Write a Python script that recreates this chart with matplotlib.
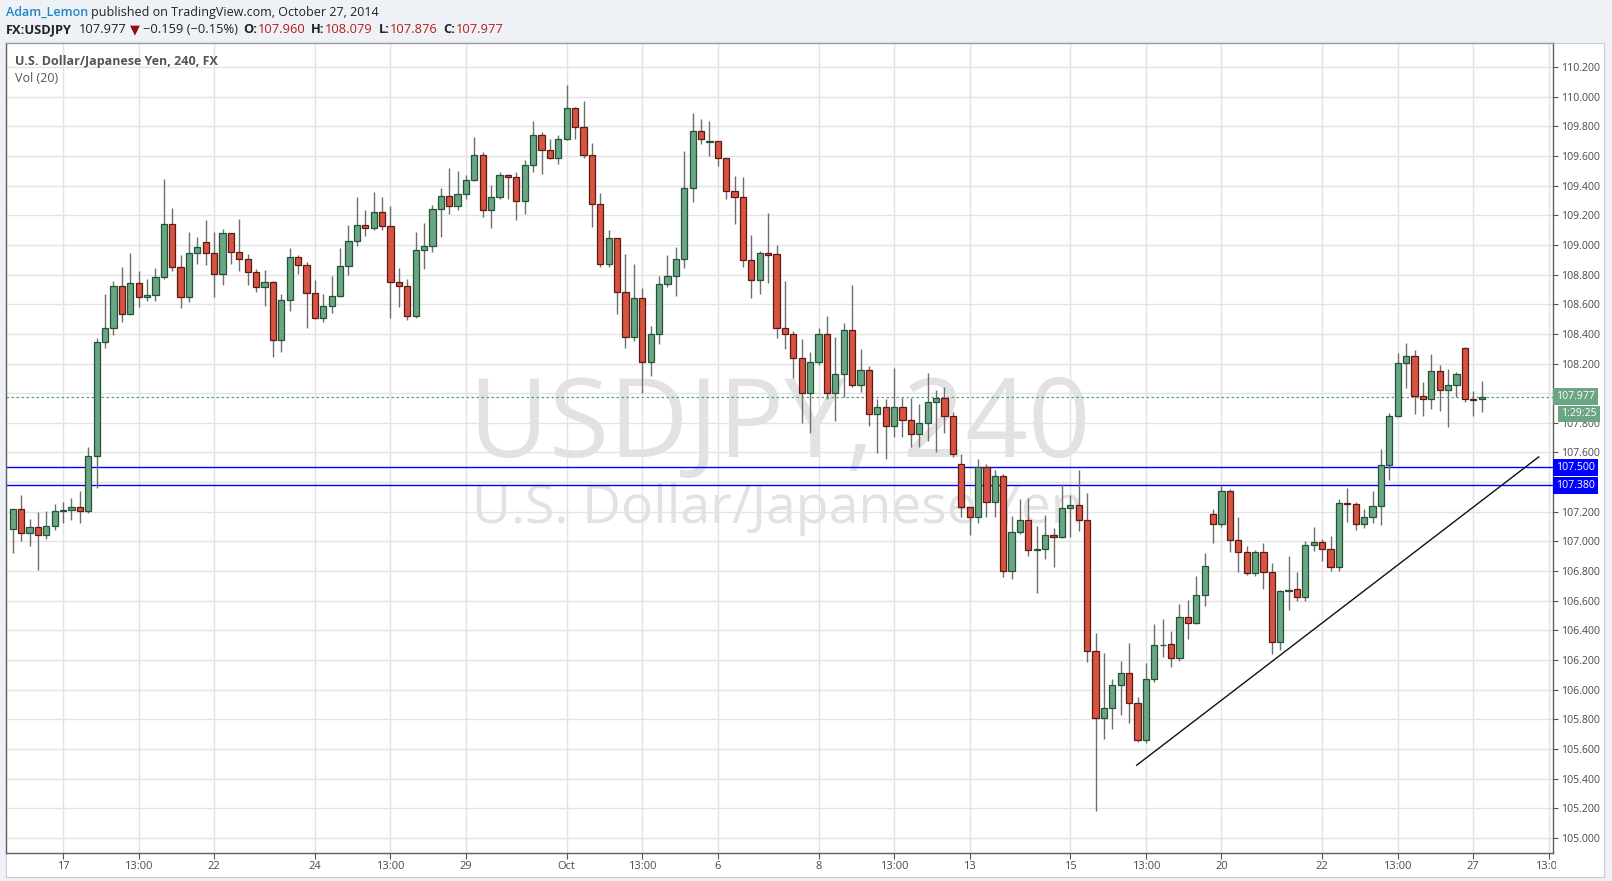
import matplotlib
matplotlib.use('Agg')
import matplotlib.pyplot as plt
from matplotlib.patches import Rectangle
from matplotlib.transforms import blended_transform_factory
import numpy as np

# ---------------- data (USDJPY, 240 min candles) ----------------
opens = [107.081, 107.216, 107.054, 107.095, 107.041, 107.102, 107.203, 107.212, 107.230, 107.203,
         107.574, 108.343, 108.437, 108.721, 108.532, 108.741, 108.646, 108.660, 108.781, 109.139,
         108.849, 108.649, 108.943, 109.017, 108.943, 108.801, 109.078, 108.950, 108.903, 108.815,
         108.714, 108.748, 108.356, 108.626, 108.916, 108.862, 108.673, 108.505, 108.586, 108.653,
         108.855, 109.024, 109.132, 109.112, 109.220, 109.125, 108.748, 108.720, 108.518, 108.963,
         108.990, 109.240, 109.328, 109.260, 109.341, 109.436, 109.604, 109.233, 109.321, 109.469,
         109.456, 109.294, 109.537, 109.739, 109.638, 109.584, 109.712, 109.921, 109.793, 109.604,
         109.274, 108.869, 109.044, 108.680, 108.376, 108.640, 108.212, 108.397, 108.734, 108.788,
         108.903, 109.382, 109.766, 109.694, 109.698, 109.584, 109.361, 109.321, 108.896, 108.761,
         108.943, 108.940, 108.437, 108.397, 108.235, 107.999, 108.208, 108.397, 107.999, 108.127,
         108.424, 108.053, 108.154, 107.857, 107.904, 107.776, 107.904, 107.817, 107.722, 107.796,
         107.938, 107.970, 107.844, 107.520, 107.230, 107.162, 107.500, 107.264, 107.439, 106.798,
         107.061, 107.142, 106.944, 106.947, 107.041, 107.028, 107.223, 107.243, 107.142, 106.263,
         105.807, 105.874, 106.029, 106.110, 105.912, 105.660, 106.075, 106.299, 106.306, 106.213,
         106.488, 106.447, 106.636, 107.183, 107.115, 107.340, 107.007, 106.926, 106.785, 106.926,
         106.791, 106.324, 106.668, 106.677, 106.623, 106.973, 106.994, 106.947, 106.830, 107.257,
         107.254, 107.115, 107.162, 107.237, 107.513, 107.844, 108.201, 108.248, 107.983, 107.958,
         108.147, 108.019, 108.053, 108.302, 107.960, 107.960]
highs = [107.220, 107.313, 107.151, 107.201, 107.205, 107.252, 107.268, 107.293, 107.340, 107.637,
         108.370, 108.669, 108.757, 108.851, 108.943, 108.824, 108.770, 108.844, 109.445, 109.247,
         108.930, 109.087, 109.053, 109.168, 109.087, 109.107, 109.080, 109.175, 108.939, 108.837,
         108.831, 108.756, 108.669, 108.979, 108.932, 108.882, 108.763, 108.669, 108.790, 108.979,
         109.134, 109.323, 109.235, 109.357, 109.323, 109.262, 108.844, 108.770, 109.087, 109.148,
         109.269, 109.384, 109.519, 109.498, 109.472, 109.728, 109.626, 109.404, 109.492, 109.478,
         109.492, 109.573, 109.836, 109.759, 109.714, 109.741, 110.079, 109.930, 109.971, 109.685,
         109.348, 109.100, 109.044, 108.939, 108.871, 108.707, 108.455, 108.790, 108.932, 108.986,
         109.633, 109.890, 109.849, 109.836, 109.700, 109.584, 109.465, 109.458, 109.067, 108.959,
         109.215, 109.000, 108.757, 108.420, 108.365, 108.280, 108.437, 108.520, 108.379, 108.473,
         108.730, 108.298, 108.181, 107.963, 107.960, 108.167, 107.970, 107.970, 107.927, 108.134,
         108.021, 108.039, 107.870, 107.590, 107.235, 107.556, 107.522, 107.482, 107.452, 107.171,
         107.286, 107.291, 107.104, 107.178, 107.090, 107.390, 107.313, 107.482, 107.327, 106.382,
         106.245, 106.072, 106.193, 106.312, 105.950, 106.180, 106.443, 106.477, 106.396, 106.578,
         106.605, 106.767, 106.922, 107.218, 107.380, 107.351, 107.164, 106.969, 106.940, 106.989,
         106.854, 106.670, 106.901, 106.794, 107.005, 107.095, 107.016, 107.036, 107.286, 107.360,
         107.266, 107.216, 107.338, 107.623, 107.866, 108.271, 108.338, 108.291, 108.075, 108.264,
         108.190, 108.163, 108.140, 108.311, 108.015, 108.079]
lows = [106.920, 107.005, 106.971, 106.804, 107.018, 107.079, 107.122, 107.147, 107.126, 107.190,
        107.358, 108.307, 108.395, 108.482, 108.530, 108.583, 108.624, 108.624, 108.770, 108.822,
        108.577, 108.617, 108.869, 108.864, 108.651, 108.732, 108.873, 108.826, 108.732, 108.685,
        108.590, 108.242, 108.275, 108.556, 108.806, 108.442, 108.498, 108.482, 108.543, 108.650,
        108.797, 108.995, 109.060, 109.100, 109.100, 108.509, 108.583, 108.493, 108.510, 108.840,
        108.954, 109.056, 109.211, 109.238, 109.312, 109.430, 109.190, 109.116, 109.310, 109.312,
        109.170, 109.211, 109.494, 109.480, 109.580, 109.543, 109.710, 109.712, 109.584, 109.119,
        108.853, 108.853, 108.534, 108.307, 108.352, 108.003, 108.118, 108.332, 108.718, 108.653,
        108.846, 109.292, 109.681, 109.602, 109.534, 109.312, 109.143, 108.853, 108.640, 108.671,
        108.745, 108.372, 108.298, 108.100, 107.801, 107.733, 108.190, 107.958, 107.814, 107.976,
        108.039, 108.006, 107.781, 107.594, 107.554, 107.707, 107.707, 107.639, 107.635, 107.680,
        107.605, 107.733, 107.570, 107.167, 107.045, 107.126, 107.162, 107.167, 106.758, 106.744,
        107.048, 106.904, 106.654, 106.879, 106.830, 107.020, 107.032, 107.072, 106.189, 105.181,
        105.667, 105.735, 105.829, 105.777, 105.647, 105.640, 106.050, 106.220, 106.150, 106.190,
        106.339, 106.440, 106.566, 106.987, 107.099, 106.931, 106.796, 106.773, 106.769, 106.681,
        106.240, 106.270, 106.537, 106.598, 106.600, 106.938, 106.870, 106.800, 106.800, 107.133,
        107.079, 107.093, 107.122, 107.113, 107.416, 107.840, 108.037, 107.862, 107.848, 107.895,
        107.882, 107.774, 107.972, 107.938, 107.848, 107.876]
closes = [107.216, 107.054, 107.095, 107.041, 107.102, 107.203, 107.212, 107.230, 107.203, 107.574,
          108.343, 108.437, 108.721, 108.532, 108.741, 108.646, 108.660, 108.781, 109.139, 108.849,
          108.649, 108.943, 108.984, 108.943, 108.801, 109.078, 108.950, 108.903, 108.815, 108.714,
          108.748, 108.356, 108.626, 108.916, 108.862, 108.673, 108.505, 108.586, 108.653, 108.855,
          109.024, 109.132, 109.112, 109.220, 109.125, 108.748, 108.720, 108.518, 108.963, 108.990,
          109.240, 109.328, 109.260, 109.341, 109.436, 109.604, 109.233, 109.321, 109.469, 109.456,
          109.294, 109.537, 109.739, 109.638, 109.584, 109.712, 109.921, 109.793, 109.604, 109.274,
          108.869, 109.044, 108.680, 108.376, 108.640, 108.212, 108.397, 108.734, 108.788, 108.903,
          109.382, 109.766, 109.712, 109.698, 109.584, 109.361, 109.321, 108.896, 108.761, 108.943,
          108.930, 108.437, 108.397, 108.235, 107.999, 108.208, 108.397, 107.999, 108.127, 108.424,
          108.053, 108.154, 107.857, 107.904, 107.776, 107.904, 107.817, 107.722, 107.796, 107.938,
          107.970, 107.844, 107.587, 107.230, 107.162, 107.500, 107.264, 107.439, 106.798, 107.061,
          107.142, 106.940, 106.946, 107.041, 107.028, 107.223, 107.243, 107.142, 106.263, 105.807,
          105.874, 106.029, 106.110, 105.912, 105.660, 106.075, 106.299, 106.303, 106.213, 106.488,
          106.447, 106.636, 106.832, 107.115, 107.340, 107.007, 106.926, 106.785, 106.926, 106.791,
          106.324, 106.663, 106.674, 106.623, 106.973, 106.994, 106.947, 106.830, 107.257, 107.254,
          107.115, 107.162, 107.237, 107.513, 107.844, 108.201, 108.248, 107.983, 107.958, 108.147,
          108.019, 108.053, 108.127, 107.958, 107.955, 107.977]

tick_idx = [6, 15, 24, 36, 45, 54, 66, 75, 84, 96, 105, 114, 126, 135, 144, 156, 165, 174, 183]
tick_labels = ["17", "13:00", "22", "24", "13:00", "29", "Oct", "13:00", "6", "8", "13:00",
               "13", "15", "13:00", "20", "22", "13:00", "27", "13:00"]

levels = [107.500, 107.380]
last_price = 107.977
trend_x = [133.9, 181.8]
trend_y = [105.49, 107.57]

# ---------------- figure ----------------
W, H = 1612, 881
fig = plt.figure(figsize=(W / 100, H / 100), dpi=100, facecolor='#eef1f5')


def fx(px):
    return px / W


def fy(py):
    return 1 - py / H


fig.add_artist(Rectangle((fx(6), fy(877)), (1604 - 6) / W, (877 - 43) / H,
                         transform=fig.transFigure, facecolor='white', edgecolor='#c9ced6',
                         lw=0.8, zorder=-5))

ax = fig.add_axes([fx(6), fy(853), (1553 - 6) / W, (853 - 43) / H])
ax.set_facecolor('white')
ax.set_xlim(-0.8, 183.5)
ax.set_ylim(104.898, 110.362)
ax.set_axisbelow(True)

# grid and ticks
yt = np.round(np.arange(105.0, 110.201, 0.2), 3)
ax.set_yticks(yt)
ax.set_yticklabels(["%.3f" % v for v in yt])
ax.set_xticks(tick_idx)
ax.set_xticklabels(tick_labels)
ax.grid(True, color='#e3e3e3', lw=1.0)
ax.yaxis.tick_right()
ax.tick_params(axis='y', which='both', right=True, left=False, direction='out', length=3.5,
               width=0.8, color='#555555', labelsize=7.6, labelcolor='#4a4a4a', pad=2)
ax.tick_params(axis='x', direction='out', length=4, width=0.8, color='#555555',
               labelsize=8, labelcolor='#4a4a4a', pad=2)
for lab in ax.get_xticklabels() + ax.get_yticklabels():
    lab.set_family('Open Sans')
# tick labels that sit under the coloured price tags are hidden by them in the original
for lab, v in zip(ax.get_yticklabels(), yt):
    if min(abs(v - last_price), abs(v - levels[0]), abs(v - levels[1])) < 0.05:
        lab.set_alpha(0.0)
for s in ax.spines.values():
    s.set_color('#5f5f5f')
    s.set_linewidth(1.0)
ax.spines['top'].set_color('#9a9a9a')

# watermark
ax.text(fx(779.5), fy(457), "USDJPY, 240", transform=fig.transFigure, ha='center', va='baseline',
        fontsize=79, family='Open Sans', color='#e2e2e2', zorder=0.7)
ax.text(fx(778), fy(523), "U.S. Dollar/Japanese Yen", transform=fig.transFigure, ha='center',
        va='baseline', fontsize=38.5, family='Open Sans', color='#e2e2e2', zorder=0.7)

# horizontal levels
for lv in levels:
    ax.axhline(lv, color='#0000ff', lw=1.0, zorder=1.5)
ax.axhline(last_price, color='#5d9c78', lw=0.9, ls=(0, (2, 2)), zorder=1.5)

# candles
o = np.array(opens)
h = np.array(highs)
l = np.array(lows)
c = np.array(closes)
x = np.arange(len(o))
up = c >= o
ax.vlines(x, l, h, color='#6e6e6e', lw=1.0, zorder=2)
body_lo = np.minimum(o, c)
body_h = np.maximum(np.abs(c - o), 0.003)
ax.bar(x[up], body_h[up], bottom=body_lo[up], width=0.74, color='#6ba583',
       edgecolor='#225437', linewidth=0.9, zorder=3)
ax.bar(x[~up], body_h[~up], bottom=body_lo[~up], width=0.74, color='#d75442',
       edgecolor='#5b1a13', linewidth=0.9, zorder=3)

# trend line
ax.plot(trend_x, trend_y, color='#111111', lw=1.0, zorder=4)

# price tags on right axis
btr = blended_transform_factory(ax.transAxes, ax.transData)
for val, col in [(last_price, '#6ba583'), (levels[0], '#0000ff'), (levels[1], '#0000ff')]:
    ax.text(1.0 + 3 / 1547, val, "%.3f" % val, transform=btr, ha='left', va='center',
            fontsize=7.6, family='Open Sans', color='white', clip_on=False, zorder=6,
            bbox=dict(boxstyle='square,pad=0.28', fc=col, ec='none'))
fig.text(fx(1561), fy(414), "1:29:25", ha='left', va='center', fontsize=7.6, family='Open Sans',
         color='white', zorder=6, bbox=dict(boxstyle='square,pad=0.28', fc='#6ba583', ec='none'))

# cover clipped x label under price scale
fig.add_artist(Rectangle((fx(1556), fy(877)), (1603 - 1556) / W, (877 - 855) / H,
                         transform=fig.transFigure, facecolor='white', edgecolor='none', zorder=10))

# legend inside plot
fig.text(fx(15), fy(65), "U.S. Dollar/Japanese Yen, 240, FX", fontsize=9.0, family='Open Sans',
         weight='bold', color='#555555', va='baseline')
fig.text(fx(15), fy(82), "Vol (20)", fontsize=9.0, family='Open Sans', color='#555555', va='baseline')

# header
renderer = fig.canvas.get_renderer()


def seq(pieces, x0, ybase, size):
    xx = x0
    for txt, col, wt, gap in pieces:
        t = fig.text(fx(xx), fy(ybase), txt, fontsize=size, color=col, weight=wt,
                     family=['Open Sans', 'DejaVu Sans'], va='baseline', ha='left')
        xx += t.get_window_extent(renderer).width + gap


seq([("Adam_Lemon", '#1b87c9', 'semibold', 3),
     ("published on TradingView.com, October 27, 2014", '#222222', 'normal', 0)], 6, 16, 9.0)
red = '#b3201b'
seq([("FX:USDJPY", '#222222', 'bold', 7),
     ("107.977", '#222222', 'normal', 3),
     ("\u25BC", '#8e0f0f', 'normal', 3),
     ("\u22120.159 (\u22120.15%)", '#222222', 'normal', 6),
     ("O:", '#222222', 'bold', 0), ("107.960", red, 'normal', 6),
     ("H:", '#222222', 'bold', 0), ("108.079", red, 'normal', 6),
     ("L:", '#222222', 'bold', 0), ("107.876", red, 'normal', 6),
     ("C:", '#222222', 'bold', 0), ("107.977", red, 'normal', 0)], 6, 33, 9.3)

fig.savefig('out.png', dpi=100, facecolor=fig.get_facecolor())
